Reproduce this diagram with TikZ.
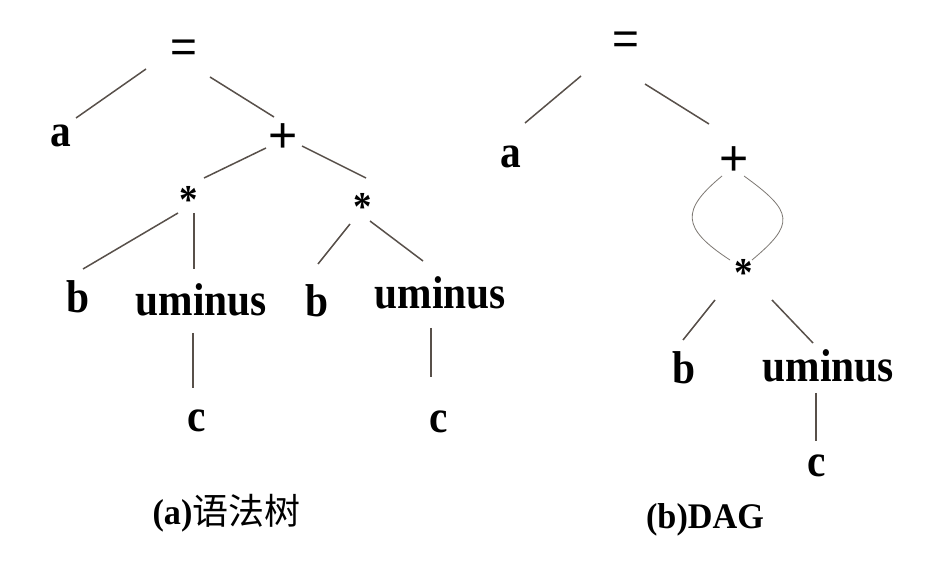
\documentclass[tikz,border=0pt]{standalone}
\usepackage{fontspec}
\setmainfont{Liberation Serif}
\newfontfamily\labfont{Liberation Serif Bold}[FakeStretch=0.9]
\newfontfamily\capfont{Liberation Serif Bold}[FakeStretch=0.95]
\newfontfamily\symfont{Liberation Sans}
\newfontfamily\cjkfont{Noto Sans CJK SC}
\definecolor{edgecol}{RGB}{88,80,74}
\definecolor{curvecol}{RGB}{125,120,115}
\tikzset{
  lab/.style={anchor=base, inner sep=0pt, font=\labfont\fontsize{46}{50}\selectfont},
  starlab/.style={anchor=base, inner sep=0pt, font=\labfont\fontsize{41}{44}\selectfont},
  eqlab/.style={anchor=base, inner sep=0pt, font=\symfont\fontsize{46}{50}\selectfont},
  pluslab/.style={anchor=base, inner sep=0pt, font=\symfont\fontsize{50}{54}\selectfont},
  caplab/.style={anchor=base, inner sep=0pt, font=\capfont\fontsize{36}{40}\selectfont},
  edge/.style={draw=edgecol, line width=1.5pt},
  curve/.style={draw=curvecol, line width=0.8pt}
}
\begin{document}
\begin{tikzpicture}[x=1pt,y=-1pt]
\useasboundingbox[fill=white] (0,0) rectangle (938,561);
% left tree
\node[eqlab]   (eqL)  at (183.5,63)  {=};
\node[lab]     (aL)   at (60.5,147)  {a};
\node[pluslab] (plusL) at (283.5,153) {+};
\node[starlab] (sL1)  at (188.5,214) {*};
\node[starlab] (sL2)  at (362.5,221) {*};
\node[lab]     (bL1)  at (78.5,313)  {b};
\node[lab]     (umL1) at (201.5,316) {uminus};
\node[lab]     (bL2)  at (317.5,317) {b};
\node[lab]     (umL2) at (440.5,309) {uminus};
\node[lab]     (cL1)  at (196.5,432) {c};
\node[lab]     (cL2)  at (438.5,433) {c};
% right tree
\node[eqlab]   (eqR)  at (625.5,55)  {=};
\node[lab]     (aR)   at (511,168)   {a};
\node[pluslab] (plusR) at (734,176)  {+};
\node[starlab] (sR)   at (743.5,287) {*};
\node[lab]     (bR)   at (684,384)   {b};
\node[lab]     (umR)  at (828.5,382) {uminus};
\node[lab]     (cR)   at (817,477)   {c};
% captions
\node[caplab] (capA) at (226.5,525) {(a){\cjkfont 语法树}};
\node[caplab] (capB) at (705,528) {(b)DAG};
% left edges
\draw[edge] ([shift={(-37.5,6)}]eqL.base) -- ([shift={(15.5,-29)}]aL.base);
\draw[edge] ([shift={(26.5,14)}]eqL.base) -- ([shift={(-9.5,-36)}]plusL.base);
\draw[edge] ([shift={(-17.5,-5)}]plusL.base) -- ([shift={(15.5,-36)}]sL1.base);
\draw[edge] ([shift={(18.5,-7)}]plusL.base) -- ([shift={(3.5,-43)}]sL2.base);
\draw[edge] ([shift={(-10.5,-1)}]sL1.base) -- ([shift={(4.5,-44)}]bL1.base);
\draw[edge] ([shift={(5.5,-1)}]sL1.base) -- ([shift={(-7.5,-47)}]umL1.base);
\draw[edge] ([shift={(-12.5,3)}]sL2.base) -- ([shift={(0.5,-53)}]bL2.base);
\draw[edge] ([shift={(7.5,0)}]sL2.base) -- ([shift={(-17.5,-48)}]umL2.base);
\draw[edge] ([shift={(-8.5,17)}]umL1.base) -- ([shift={(-3.5,-44)}]cL1.base);
\draw[edge] ([shift={(-9.5,19)}]umL2.base) -- ([shift={(-7.5,-56)}]cL2.base);
% right edges
\draw[edge] ([shift={(-44.5,21)}]eqR.base) -- ([shift={(14,-45)}]aR.base);
\draw[edge] ([shift={(19.5,29)}]eqR.base) -- ([shift={(-25,-52)}]plusR.base);
\draw[curve] ([shift={(-12,0)}]plusR.base) .. controls +(-41,34) and +(-49,-32) .. ([shift={(-13.5,-27)}]sR.base);
\draw[curve] ([shift={(10,0)}]plusR.base) .. controls +(50,36) and +(43,-36) .. ([shift={(8.5,-27)}]sR.base);
\draw[edge] ([shift={(-28.5,13)}]sR.base) -- ([shift={(-1,-44)}]bR.base);
\draw[edge] ([shift={(28.5,13)}]sR.base) -- ([shift={(-15.5,-39)}]umR.base);
\draw[edge] ([shift={(-12.5,11)}]umR.base) -- ([shift={(-1,-36)}]cR.base);
\end{tikzpicture}
\end{document}
